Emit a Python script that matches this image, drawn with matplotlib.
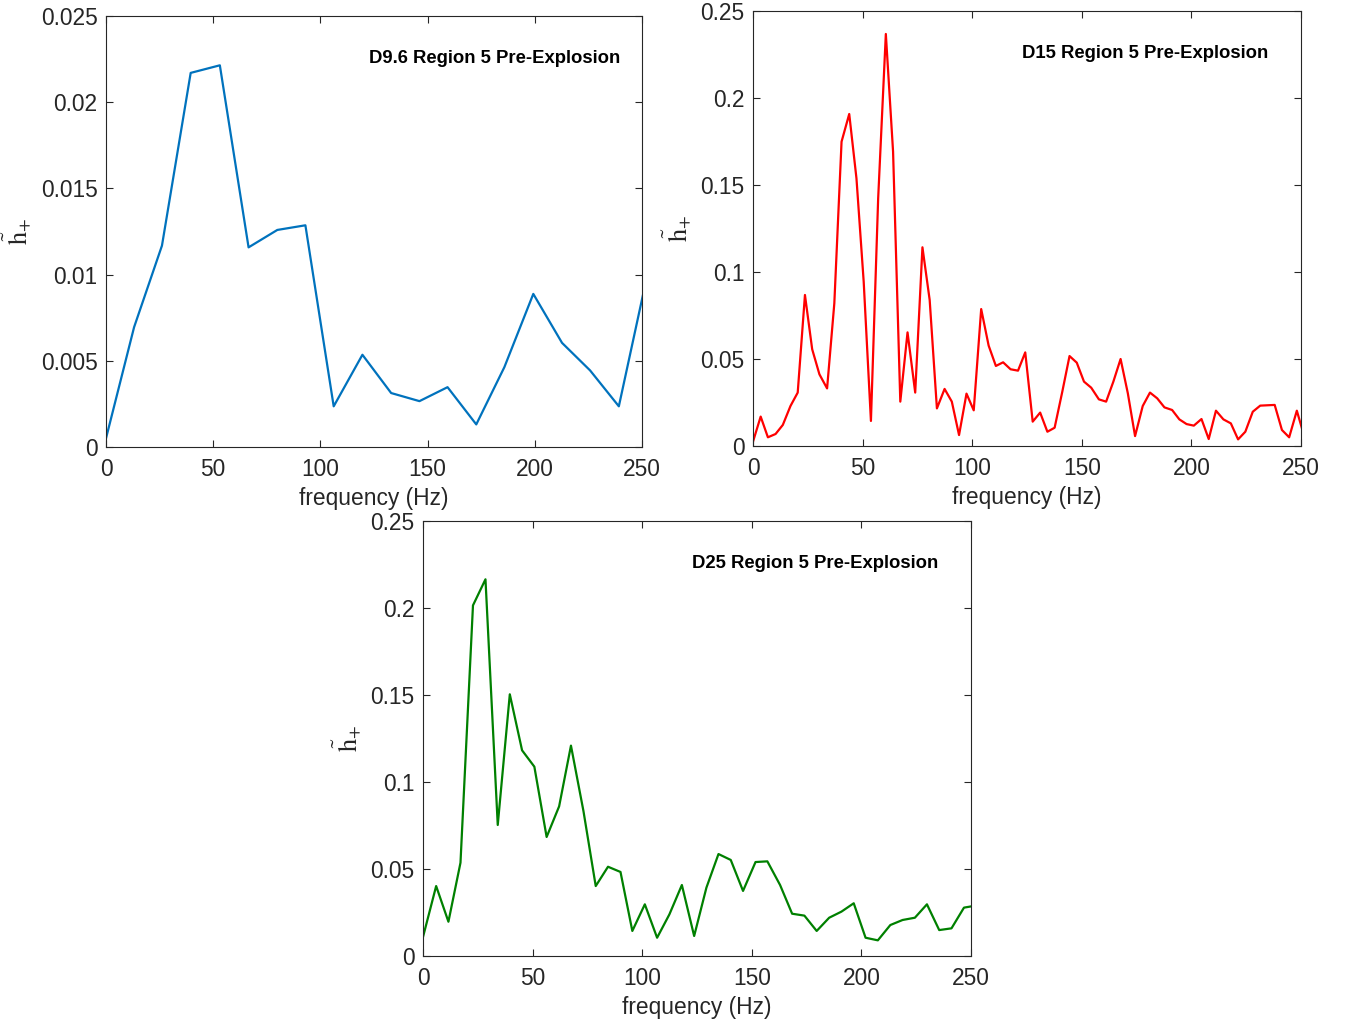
import matplotlib
matplotlib.use("Agg")
import matplotlib.pyplot as plt

plt.rcParams["font.family"] = ["Liberation Sans", "DejaVu Sans"]
plt.rcParams["mathtext.fontset"] = "stix"

# D9.6 spectrum
freq_d96 = [0, 13.1, 26.1, 39.5, 53.1, 66.5, 79.9, 93.0, 106.2, 119.6, 133.0,
            146.2, 159.3, 172.7, 185.8, 199.3, 212.7, 225.8, 239.2, 252.5]
amp_d96 = [0.0005, 0.00695, 0.01168, 0.0217, 0.02214, 0.01158, 0.01259, 0.01286,
           0.00236, 0.00535, 0.00313, 0.00266, 0.00347, 0.00131, 0.00463, 0.00888,
           0.00604, 0.00444, 0.00236, 0.0100]

# D15 spectrum
freq_d15 = [0, 3.5, 6.8, 10.3, 13.6, 17.1, 20.4, 23.7, 27.0, 30.3, 33.8, 37.1,
            40.4, 43.9, 47.2, 50.5, 53.8, 57.1, 60.6, 63.9, 67.2, 70.5, 74.0, 77.3,
            80.6, 83.9, 87.4, 90.7, 94.0, 97.4, 100.7, 104.1, 107.5, 110.8, 114.1,
            117.5, 120.9, 124.2, 127.6, 131.0, 134.3, 137.6, 141.1, 144.4, 147.7,
            151.0, 154.3, 157.8, 161.1, 164.4, 167.7, 171.0, 174.3, 177.8, 181.1,
            184.4, 187.7, 191.2, 194.5, 197.8, 201.1, 204.6, 207.9, 211.2, 214.6,
            218.0, 221.3, 224.6, 228.0, 231.4, 234.6, 238.0, 241.3, 244.6, 248.1,
            251.4]
amp_d15 = [0.0025, 0.0169, 0.005, 0.0069, 0.0121, 0.023, 0.0307, 0.0868, 0.0556,
           0.0412, 0.0331, 0.082, 0.1749, 0.1908, 0.1538, 0.0944, 0.0144, 0.1423,
           0.2368, 0.1692, 0.0255, 0.0653, 0.0307, 0.1142, 0.0839, 0.0216, 0.0328,
           0.0255, 0.0063, 0.0301, 0.0205, 0.0787, 0.0577, 0.046, 0.0481, 0.0441,
           0.0433, 0.0538, 0.014, 0.0192, 0.0082, 0.0105, 0.0312, 0.0517, 0.0479,
           0.037, 0.0335, 0.0268, 0.0255, 0.037, 0.05, 0.0303, 0.0057, 0.023,
           0.0307, 0.0274, 0.0222, 0.0207, 0.0153, 0.0126, 0.0117, 0.0155, 0.004,
           0.0203, 0.0153, 0.013, 0.0038, 0.0082, 0.0197, 0.0232, 0.0234, 0.0236,
           0.0092, 0.005, 0.0203, 0.0059]

# D25 spectrum
freq_d25 = [0, 6.0, 11.6, 17.1, 22.8, 28.5, 34.1, 39.6, 45.2, 50.8, 56.4, 62.1,
            67.5, 73.2, 78.8, 84.4, 90.1, 95.5, 101.2, 106.8, 112.4, 118.1, 123.7,
            129.3, 134.8, 140.4, 146.0, 151.7, 157.1, 162.9, 168.4, 174.0, 179.6,
            185.3, 190.9, 196.5, 201.9, 207.5, 213.2, 218.8, 224.4, 229.9, 235.5,
            241.1, 246.8, 252.4]
amp_d25 = [0.0109, 0.0402, 0.0197, 0.0536, 0.2015, 0.2165, 0.0753, 0.1504, 0.1182,
           0.1088, 0.0684, 0.086, 0.1209, 0.0833, 0.0402, 0.0513, 0.0483, 0.0144,
           0.0297, 0.0105, 0.0239, 0.0408, 0.0115, 0.0393, 0.0586, 0.0552, 0.0374,
           0.054, 0.0544, 0.0408, 0.0243, 0.0232, 0.0144, 0.022, 0.0255, 0.0303,
           0.0105, 0.009, 0.0178, 0.0207, 0.022, 0.0297, 0.0149, 0.0159, 0.0278,
           0.0290]

titles = ["D9.6 Region 5 Pre-Explosion", "D15 Region 5 Pre-Explosion",
          "D25 Region 5 Pre-Explosion"]
xticks = [0, 50, 100, 150, 200, 250]
yticks_d96 = [0, 0.005, 0.01, 0.015, 0.02, 0.025]
yticks_big = [0, 0.05, 0.1, 0.15, 0.2, 0.25]
ylabels_d96 = ["0", "0.005", "0.01", "0.015", "0.02", "0.025"]
ylabels_big = ["0", "0.05", "0.1", "0.15", "0.2", "0.25"]

W, H = 1348, 1026
fig = plt.figure(figsize=(W / 100, H / 100), dpi=100)

edge = (0.15, 0.15, 0.15)


def make_axes(x0, x1, y_top, y_bot):
    return fig.add_axes([x0 / W, 1 - y_bot / H, (x1 - x0) / W, (y_bot - y_top) / H])


def style(ax, f, a, color, title, yticks, ylabels):
    ax.plot(f, a, color=color, lw=1.6)
    ax.set_xlim(0, 250)
    ax.set_ylim(yticks[0], yticks[-1])
    ax.set_xticks(xticks)
    ax.set_yticks(yticks)
    ax.set_yticklabels(ylabels)
    ax.tick_params(direction="in", top=True, right=True, length=5, width=0.8,
                   colors=edge, labelcolor=edge, labelsize=16.4)
    ax.tick_params(axis="x", pad=8)
    ax.tick_params(axis="y", pad=6)
    for s in ax.spines.values():
        s.set_color(edge)
        s.set_linewidth(0.8)
    ax.set_xlabel("frequency (Hz)", fontsize=16.4, color=edge, labelpad=4)
    ax.set_ylabel(r"$\tilde{\mathrm{h}}_{+}$", fontsize=19, color=edge, labelpad=5)
    ax.text(0.49, 0.902, title, transform=ax.transAxes, fontsize=13.3,
            fontweight="bold", va="center", ha="left", color="black")


ax1 = make_axes(106, 642, 16, 447)
style(ax1, freq_d96, amp_d96, "#0072BD", titles[0], yticks_d96, ylabels_d96)

ax2 = make_axes(753, 1301, 11, 446)
style(ax2, freq_d15, amp_d15, "#FF0000", titles[1], yticks_big, ylabels_big)

ax3 = make_axes(423, 971, 521, 956)
style(ax3, freq_d25, amp_d25, "#008000", titles[2], yticks_big, ylabels_big)

fig.savefig("out.png", dpi=100)
